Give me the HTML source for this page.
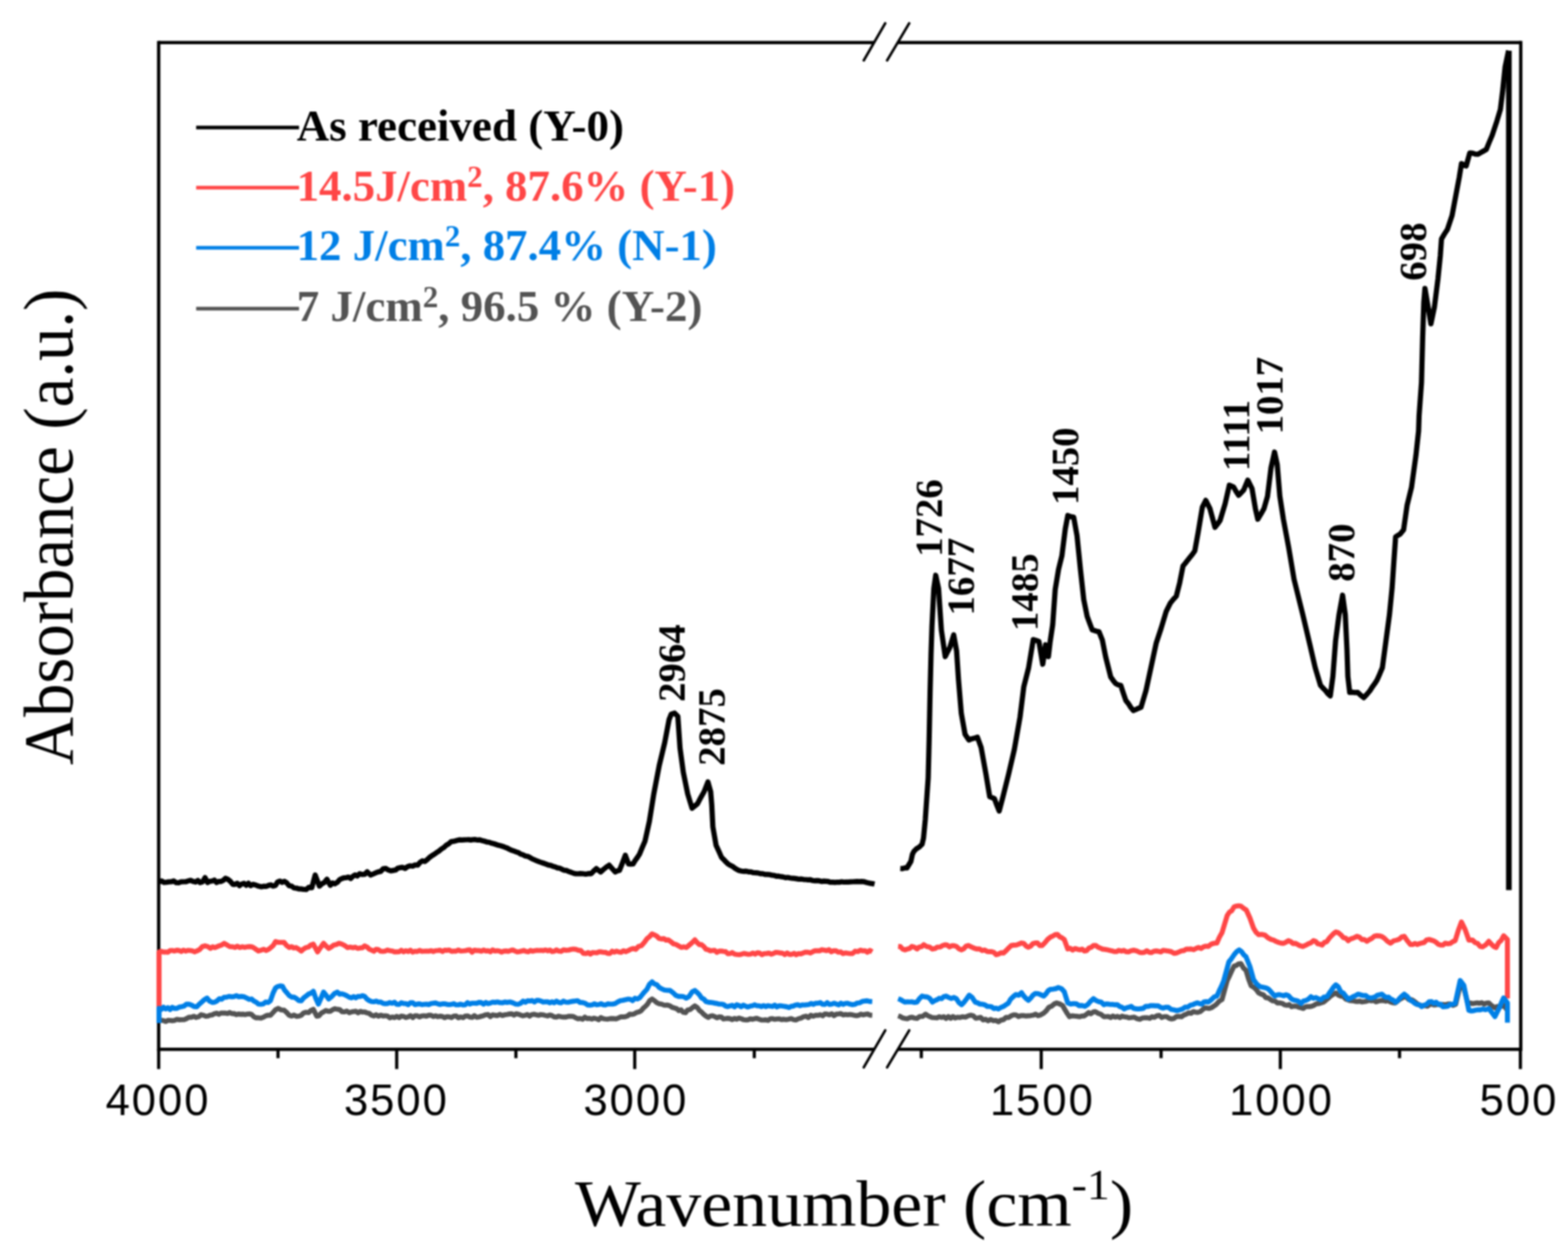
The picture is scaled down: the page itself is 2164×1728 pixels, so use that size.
<!DOCTYPE html>
<html><head><meta charset="utf-8"><title>FTIR absorbance spectra</title>
<style>html,body{margin:0;padding:0;background:#fff;width:2164px;height:1728px;overflow:hidden;}svg{display:block;}</style>
</head><body>
<svg width="2164" height="1728" viewBox="0 0 2164 1728" style="filter:blur(0.8px)"><g stroke="#000" stroke-width="4.6" fill="none" stroke-linecap="square">
<line x1="219" y1="58.8" x2="219" y2="1448.2"/>
<line x1="2098.8" y1="58.8" x2="2098.8" y2="1448.2"/>
</g><g stroke="#000" stroke-width="4.6" fill="none" stroke-linecap="butt">
<line x1="219" y1="58.8" x2="1206" y2="58.8"/>
<line x1="1239" y1="58.8" x2="2098.8" y2="58.8"/>
<line x1="219" y1="1448.2" x2="1206" y2="1448.2"/>
<line x1="1239" y1="1448.2" x2="2098.8" y2="1448.2"/>
</g>
<g stroke="#000" stroke-width="4.4" fill="none">
<line x1="219" y1="1448.2" x2="219" y2="1475.5"/>
<line x1="547.5" y1="1448.2" x2="547.5" y2="1475.5"/>
<line x1="876" y1="1448.2" x2="876" y2="1475.5"/>
<line x1="1437" y1="1448.2" x2="1437" y2="1475.5"/>
<line x1="1767" y1="1448.2" x2="1767" y2="1475.5"/>
<line x1="2098.3" y1="1448.2" x2="2098.3" y2="1475.5"/>
<line x1="383.7" y1="1448.2" x2="383.7" y2="1460.5"/>
<line x1="712" y1="1448.2" x2="712" y2="1460.5"/>
<line x1="1041" y1="1448.2" x2="1041" y2="1460.5"/>
<line x1="1271.5" y1="1448.2" x2="1271.5" y2="1460.5"/>
<line x1="1602.4" y1="1448.2" x2="1602.4" y2="1460.5"/>
<line x1="1931.5" y1="1448.2" x2="1931.5" y2="1460.5"/>
</g>
<g stroke="#000" stroke-width="3.6" fill="none" stroke-linecap="round">
<line x1="1192.1" y1="83.3" x2="1221.7" y2="32.2"/>
<line x1="1224.3" y1="83.3" x2="1254.8" y2="32.2"/>
<line x1="1192.1" y1="1473.2" x2="1221.7" y2="1422.1"/>
<line x1="1224.3" y1="1473.2" x2="1254.8" y2="1422.1"/>
</g>
<polyline points="219.5,1408.4 222.5,1408.2 225.6,1408.6 228.6,1409.8 231.7,1408.3 234.7,1408.4 237.8,1408.7 240.8,1408.4 244.1,1406.9 247.4,1407.5 250.7,1407.4 254,1407.4 257.3,1406 260.7,1404 264.1,1404 267.5,1402.7 270.8,1404.3 274.2,1403.3 277.6,1400.5 281,1401.3 284,1402.6 287,1402.4 290,1401.1 293,1400.8 296,1399.1 299.1,1398.4 302.1,1399.9 305.1,1398.1 308.1,1398.3 311.1,1398.3 314.1,1398.9 317.1,1397.5 320.1,1399 323.1,1399 326.1,1400.4 329.1,1399.5 332.2,1400 335.2,1399.7 338.2,1400.3 341.2,1399.7 344.2,1399.3 347.2,1400.1 350.4,1403.3 353.5,1404.8 356.7,1404.8 360,1405.2 363.3,1404.1 366.6,1402.1 369.9,1401.1 373.2,1401.3 376.8,1397.5 380.3,1393.6 383.9,1391.8 388,1393.9 392.1,1394.2 395.6,1397.4 399.2,1401.3 402.5,1402.4 405.8,1400.9 409.2,1402.8 412.5,1402.4 415.8,1401.3 419.1,1398 422.4,1397.1 425.8,1397.6 429.1,1394.6 432.4,1393 437.1,1402.5 440.2,1402.1 443.4,1398.2 446.5,1396.6 449.7,1394.6 452.8,1395.8 456,1395.7 459.2,1393.5 462.3,1392.3 465.5,1393 468.8,1393.4 472.1,1396.4 475.4,1396.6 478.7,1395.5 482,1397.7 485,1396.7 488.1,1396.1 491.1,1395.8 494.2,1398 497.2,1395.9 500.3,1396.9 503.3,1396.6 506.5,1398 509.6,1398.7 512.8,1401.3 516,1402.3 519.1,1400.6 522.3,1402.5 525.4,1401.1 528.6,1402.3 531.7,1401.9 534.9,1402.4 538,1404.9 541.2,1403.6 544.4,1404.5 547.5,1402.8 550.7,1404.6 553.8,1402.4 557,1402.9 560.1,1404.3 563.3,1403.5 566.4,1401.7 569.6,1404.5 572.7,1401.9 575.9,1402 579,1403.6 582.2,1402.1 585.3,1401.9 588.5,1402.5 591.7,1401.2 594.8,1401.3 598,1403 601.1,1402 604.3,1403.2 607.4,1402.5 610.6,1402.9 613.7,1404.6 616.9,1403.1 620,1403.5 623.2,1404.5 626.3,1402.4 629.5,1402.3 632.6,1404.8 635.8,1403.6 639,1404.5 642.1,1402.5 645.3,1402.1 648.4,1403.8 651.6,1404.2 654.7,1401.7 657.9,1404 661,1403.6 664.2,1402.6 667.3,1401.8 670.5,1400.6 673.6,1400.3 676.8,1403.1 679.9,1400.6 683.1,1401.3 686.5,1401.7 689.9,1400 693.2,1401.6 696.6,1400.6 700,1400.1 703.1,1399.5 706.2,1399.3 709.3,1401.1 712.3,1399.1 715.4,1399.8 718.5,1400.9 721.6,1402 724.7,1401.3 727.8,1400.3 730.9,1402.5 734,1400.3 737,1399.8 740.1,1400.7 743.2,1401.4 746.3,1400.3 749.4,1400.7 752.5,1401.5 755.6,1402.2 758.7,1400.9 761.7,1401.7 764.8,1403.5 767.9,1403.9 771,1402.5 774.4,1403.3 777.7,1403.8 781.1,1403.8 784.5,1402.7 787.9,1402.7 791.2,1402.9 794.6,1404.8 797.8,1406.2 800.9,1405.7 804.1,1406.7 807.2,1403.8 810.4,1405.9 813.5,1405.5 816.7,1406.5 819.8,1405.3 823,1406 826.1,1407.5 829.2,1404.4 832.2,1405.8 835.3,1406.3 838.4,1406.7 841.5,1406 844.6,1405.8 847.6,1406 850.7,1406.2 853.8,1404.8 856.9,1403.4 859.9,1403.5 863,1403.3 866.1,1402.2 869.1,1399.8 872.2,1400.1 875.3,1399.4 878.4,1397.5 881.4,1396.7 884.5,1395.4 887.6,1391.7 890.7,1389 893.7,1385.8 896.8,1380.8 899.9,1378.8 903.1,1381 906.4,1383.9 909.6,1385.3 912.9,1385.9 916.8,1387.4 920.8,1387.1 924.7,1388.3 927.7,1390.4 930.8,1391.2 933.8,1392.1 936.9,1394.8 939.9,1393.7 943,1397.2 946,1397.7 949.2,1393.8 952.5,1393.3 955.8,1390.6 959,1388.3 962.1,1390.3 965.2,1394.6 968.2,1396.8 971.3,1400 974.4,1402.5 977.4,1404.2 980.4,1402.4 983.4,1401.9 986.4,1403.1 989.4,1404.7 992.5,1403.5 995.5,1403.7 998.5,1406.3 1001.5,1405.9 1004.5,1405.5 1007.5,1406 1010.6,1407.3 1013.7,1405.6 1016.8,1406.7 1019.8,1405.2 1022.9,1406 1026,1407.3 1029.1,1407.7 1032.2,1407.6 1035.3,1406.1 1038.4,1406.8 1041.5,1406 1044.5,1405.5 1047.6,1406.7 1050.7,1407.8 1053.8,1407.9 1056.9,1407.5 1060,1408.3 1063.1,1406.2 1066.2,1405.9 1069.2,1406.9 1072.3,1406.4 1075.4,1406.2 1078.5,1407.2 1081.9,1406.8 1085.2,1407.3 1088.6,1406.7 1092,1405.9 1095.4,1407.4 1098.7,1407.7 1102.1,1406 1105.5,1405.2 1108.9,1403.3 1112.3,1402.5 1115.6,1404.5 1119,1401.2 1122.4,1402.6 1125.8,1401.3 1129,1401.4 1132.1,1400.5 1135.3,1402 1138.4,1399.4 1141.6,1399.7 1144.7,1400.7 1147.9,1399.2 1151,1401.7 1154.2,1399.7 1157.3,1399.4 1160.5,1399 1163.6,1400.8 1166.8,1400.1 1169.9,1400.6 1173.1,1400.1 1176.2,1400.7 1179.2,1401.3 1182.3,1401.9 1185.4,1401.2 1188.4,1399.7 1191.5,1400.7 1194.6,1399.9 1197.7,1399.5 1200.7,1401.1 1203.8,1401.3" fill="none" stroke="#535353" stroke-width="6.9" stroke-linejoin="round" stroke-linecap="butt"/>
<polyline points="1239.5,1402 1242.6,1403.1 1245.8,1404.9 1248.9,1405.6 1252.2,1406.1 1255.5,1404.5 1258.9,1404 1262.2,1405.2 1265.5,1405.6 1269.4,1402.9 1273.4,1402.7 1277.3,1399.7 1280.5,1401.9 1283.6,1403.2 1286.8,1404.4 1290,1404.6 1293.1,1404.9 1296.2,1403.3 1299.4,1404.2 1302.5,1403.3 1305.7,1405.7 1308.8,1403 1312,1405.4 1315.1,1403 1318.3,1405 1321.4,1403.9 1324.6,1404.4 1328.5,1403.3 1332.5,1403.9 1336.4,1402 1339.8,1401.1 1343.2,1402 1346.6,1405.4 1349.9,1404.8 1353.3,1404.1 1356.7,1407.7 1360.1,1406.8 1363.6,1408.9 1367.2,1407 1370.7,1408.7 1374.3,1408.4 1377.8,1410.3 1381.4,1408 1384.9,1407.4 1388.5,1404.2 1392,1404.3 1395.6,1402 1399,1400.6 1402.3,1400.9 1405.7,1403 1409.1,1401.7 1412.5,1401.7 1415.8,1402.3 1419.2,1402 1422.5,1401.7 1425.8,1401.2 1429.2,1399.8 1432.5,1401.8 1435.8,1400.9 1439.7,1398.8 1443.7,1395.3 1447.6,1390.2 1451.2,1388.8 1454.7,1385.8 1458.3,1384.3 1462.4,1385.6 1466.5,1387.8 1469.7,1393.5 1472.8,1398.6 1476,1403.2 1479.5,1402 1483.1,1402.4 1486.7,1402.8 1490.2,1403.2 1493.2,1402.2 1496.3,1402.2 1499.3,1400.2 1502.4,1397.6 1505.4,1399.2 1508.5,1396.9 1511.5,1396.1 1515.4,1398.5 1519.4,1399.9 1523.3,1403.2 1526.5,1403.1 1529.6,1403 1532.8,1404.4 1535.9,1402.3 1539.1,1403.9 1542.2,1402.8 1545.4,1404.5 1548.6,1402.5 1551.7,1403.4 1554.9,1403.7 1558,1404.7 1561.2,1404.4 1565.1,1403.8 1569.1,1405.9 1573,1406.8 1576.4,1405.2 1579.7,1404.7 1583.1,1404.7 1586.5,1405.5 1589.9,1403.3 1593.2,1404.1 1596.6,1402 1600,1401.5 1603.4,1404.4 1606.8,1403.1 1610.1,1403.1 1613.5,1405.4 1616.9,1406.4 1620.3,1405.6 1623.7,1403 1627.1,1402.8 1630.5,1403.4 1633.8,1401 1637.2,1399.7 1640.6,1397.9 1644,1398.5 1647.1,1396.1 1650.1,1397 1653.2,1397.2 1656.3,1396.3 1659.3,1393.8 1662.4,1391.3 1665.5,1391.3 1668.6,1391.8 1671.6,1391 1674.7,1389 1678.6,1386.3 1682.6,1381.9 1686.5,1379.6 1693.6,1353.5 1696.8,1346.9 1699.9,1340 1703.1,1333.4 1706.3,1332.6 1709.4,1330.3 1712.6,1329.9 1716.1,1336 1719.6,1339.3 1723.2,1351.2 1726.7,1360.6 1730.2,1362.4 1733.7,1365.7 1737.1,1370.4 1740.6,1372.1 1743.8,1373.1 1747,1377 1750.2,1377.3 1753.3,1379.6 1756.5,1381.4 1759.7,1381.6 1762.9,1384.2 1766.2,1384.2 1769.4,1384.8 1772.7,1386.8 1775.9,1387.5 1779.2,1386.4 1782.5,1389.5 1785.7,1388.7 1789,1388.8 1792.2,1390.1 1795.5,1391 1798.6,1391.8 1801.6,1389.7 1804.7,1389.1 1807.7,1389.3 1810.8,1388.7 1813.8,1387.3 1816.9,1385.4 1819.9,1385.2 1823,1384.2 1826.4,1383.2 1829.9,1380.5 1833.3,1377.6 1836.7,1374.5 1840.2,1372.3 1843.6,1370.4 1847,1373.3 1850.4,1374.9 1853.9,1375.3 1857.3,1379 1860.5,1380.1 1863.7,1381.1 1866.9,1381.2 1870.2,1382 1873.4,1382.4 1876.6,1381.7 1879.8,1382.9 1883,1382.4 1886.2,1381.8 1889.5,1380.7 1892.7,1381.3 1895.9,1380.9 1899.1,1382.7 1902.3,1381.7 1905.6,1381 1908.8,1380.7 1912.2,1381.8 1915.6,1380.9 1919.1,1382.9 1922.5,1384.1 1925.9,1384.2 1928.9,1381.7 1932,1379.1 1935,1377.5 1938,1375.6 1941.2,1376.7 1944.4,1379.6 1947.6,1379.6 1950.7,1381.1 1953.9,1383.6 1957.1,1386.5 1960.3,1387.6 1963.4,1388.3 1966.5,1387.9 1969.7,1388.7 1972.8,1386.8 1975.9,1385.7 1979,1387.1 1982.1,1386.8 1985.2,1385.9 1988.4,1387.4 1991.5,1386.3 1994.6,1386.7 1998.2,1385.7 2001.8,1385.8 2005.4,1387.6 2009,1386 2015.2,1360 2020.3,1364 2026,1386 2029.2,1384.2 2032.4,1385.2 2035.6,1384.7 2038.8,1384.2 2041.9,1384.8 2045.1,1383.9 2048.3,1385.9 2051.5,1384.4 2054.7,1384.2 2058.9,1388.2 2063.2,1391 2066.2,1389.1 2069.2,1389.2 2072.2,1388.8 2075.2,1387.6 2080.4,1394.5" fill="none" stroke="#535353" stroke-width="6.9" stroke-linejoin="round" stroke-linecap="butt"/>
<polyline points="219.5,1390 219.5,1313.8 222.5,1312.9 225.6,1314 228.6,1313.9 231.7,1314.2 234.7,1311.9 237.8,1311.9 240.8,1312.6 243.9,1311.5 246.9,1311.7 250,1313.3 253.1,1311.4 256.1,1312.7 259.2,1311.7 262.3,1311.9 265.4,1312.4 268.4,1313.7 271.5,1312.6 275.4,1310.6 279.4,1306.3 283.3,1305.5 286.9,1306.5 290.4,1309 293.5,1306.7 296.7,1307.9 299.9,1306.5 303,1305.3 306.1,1304.2 309.3,1302 313.3,1304.3 317.2,1306.6 321.2,1306.7 324.4,1307.6 327.7,1305.9 330.9,1307.8 334.2,1306.7 337.4,1307.5 340.7,1306.9 343.9,1306.5 347.2,1306.7 350.4,1308.2 353.5,1310.4 356.7,1312.6 360.2,1311.4 363.8,1310.2 367.3,1311.8 370.9,1310.2 374,1307.6 377.2,1304.7 380.3,1299.6 384.2,1300.6 388.2,1300.6 392.1,1300.8 395.6,1305.1 399.2,1307.8 402.4,1306.6 405.5,1308.4 408.7,1307.8 412.2,1310 415.8,1312.6 419.1,1309.7 422.4,1307.8 425.8,1307 429.1,1304.2 432.4,1303.1 438.3,1313.8 442.4,1307.7 446.5,1301.9 450.1,1305.8 453.6,1309 457.2,1306.9 460.7,1304.3 464.2,1303.6 467.8,1301.9 471.8,1303 475.7,1305 479.7,1307.8 483.2,1307.1 486.8,1308 490.3,1307.3 493.9,1309 497,1308.3 500.2,1308.1 503.3,1305.5 506.5,1307.1 509.6,1310.1 512.8,1311.4 516,1312.9 519.1,1310.2 522.3,1310.7 525.4,1312.9 528.6,1313.1 531.7,1312.6 534.9,1311.2 538,1312.2 541.2,1312.6 544.4,1313.8 547.5,1313.8 550.7,1313.6 553.8,1311.6 557,1313.7 560.1,1312.2 563.3,1313.3 566.4,1311.4 569.6,1314.1 572.7,1312.9 575.9,1313.3 579,1311.7 582.2,1313 585.3,1312.9 588.5,1312.6 591.7,1312.9 594.8,1312.1 598,1313.3 601.1,1312.1 604.3,1311.9 607.4,1311.5 610.6,1313.2 613.7,1311.4 616.9,1311.7 620,1311.2 623.2,1313.1 626.3,1312.8 629.5,1312.7 632.6,1311.1 635.8,1312.6 639,1312.4 642.1,1312.1 645.3,1311.3 648.4,1311 651.6,1314.2 654.7,1311.4 657.9,1312 661,1311.9 664.2,1312.9 667.3,1311.2 670.5,1312.5 673.6,1312.2 676.8,1313.7 679.9,1311 683.1,1312.6 686.2,1312.1 689.2,1312.6 692.3,1314.1 695.4,1312.7 698.5,1312.5 701.5,1313.1 704.6,1311.9 707.7,1311.1 710.8,1312.6 713.9,1313.9 716.9,1313.4 720,1312.6 723,1311.8 726,1313.2 729,1313.7 732,1311.8 735,1312.9 738,1312.1 741,1311.8 744,1311.9 747,1311.7 750,1312.1 753,1311.1 756,1312.3 759,1311.3 762,1313.4 765,1312.9 768,1311 771,1312.6 774.4,1313.1 777.7,1310.9 781.1,1311.5 784.5,1311.4 787.9,1310.4 791.2,1309.9 794.6,1310.2 798.1,1311.5 801.7,1312 805.2,1315.8 808.8,1316.1 811.8,1314.7 814.8,1316.8 817.8,1314.7 820.8,1314.9 823.8,1315 826.8,1313.7 829.8,1313.8 832.8,1314.4 835.8,1314.5 838.8,1315.8 841.8,1316 844.8,1312.8 847.8,1314.2 850.8,1312.8 853.8,1313.8 857.2,1314.3 860.5,1312.2 863.9,1313.5 867.3,1311.9 870.7,1310 874,1309.1 877.4,1310.2 881.3,1306.3 885.3,1305.1 889.2,1300.8 892.8,1295.7 896.3,1292.8 899.9,1288.9 903.1,1290.3 906.4,1292 909.6,1295.2 912.9,1296 916.1,1295.5 919.2,1297.5 922.4,1297.2 925.9,1299.8 929.5,1302.7 933,1303.5 936.5,1305.5 940.1,1307.6 943.6,1306.8 947.2,1307.8 951.1,1304.5 955.1,1301.1 959,1297.2 962.1,1300.9 965.2,1303.7 968.2,1303.8 971.3,1306.4 974.4,1310.2 977.4,1310.8 980.4,1312.3 983.4,1311.9 986.4,1311.7 989.4,1314.4 992.5,1312.8 995.5,1312.6 998.5,1313.1 1001.5,1313.5 1004.5,1316.3 1007.5,1316.1 1010.7,1314.8 1013.8,1316.8 1017,1317.3 1020.1,1317.7 1023.3,1317.1 1026.4,1315.9 1029.6,1316.5 1032.7,1317.2 1035.9,1316.8 1039,1315.4 1042.2,1316.9 1045.3,1314.9 1048.5,1315.5 1051.6,1317.7 1054.8,1316.1 1058,1316 1061.1,1315.4 1064.3,1317 1067.4,1315.9 1070.6,1314.5 1073.7,1314.6 1076.9,1315.3 1080,1315.6 1083.2,1317.5 1086.3,1315.3 1089.5,1317.2 1092.6,1317.2 1095.8,1315.8 1098.9,1317.7 1102.1,1316.1 1105.3,1316.5 1108.6,1315.2 1111.8,1314.1 1115,1314.3 1118.2,1315.3 1121.5,1313.7 1124.7,1312.1 1127.9,1312.3 1131.1,1312.2 1134.4,1310.8 1137.6,1311.4 1140.8,1312.1 1144.1,1310.8 1147.3,1313.7 1150.5,1312.1 1153.7,1312.3 1157,1314.2 1160.2,1313.8 1163.4,1316.1 1166.6,1315.2 1169.9,1315.7 1173.1,1316.1 1176.6,1316 1180.2,1312.8 1183.8,1313.4 1187.3,1311.4 1190.6,1312.4 1193.9,1312.1 1197.2,1314.3 1200.5,1311.8 1203.8,1313.8" fill="none" stroke="#ff4646" stroke-width="6.9" stroke-linejoin="round" stroke-linecap="butt"/>
<polyline points="1239.5,1306.2 1242.6,1306.5 1245.8,1310 1248.9,1311 1252.1,1309.9 1255.2,1309.2 1258.4,1306.2 1262,1307.3 1265.5,1309.8 1268.6,1307.1 1271.8,1306.6 1274.9,1303.9 1278.9,1306.4 1282.8,1307.2 1286.8,1309.8 1290.3,1309.2 1293.9,1307.1 1297.5,1307.1 1301,1305 1304.2,1304 1307.3,1304.5 1310.5,1306.9 1313.6,1305.3 1316.8,1305.2 1319.9,1306.2 1323.5,1309.6 1327,1311 1330.1,1309.4 1333.3,1305.9 1336.4,1305 1340.4,1306.8 1344.3,1308.7 1348.3,1309.8 1351.8,1309.6 1355.4,1312 1359,1311.2 1362.5,1313.3 1365.6,1313.5 1368.6,1313.4 1371.7,1314.5 1374.7,1317.7 1377.8,1316.9 1381.4,1315 1384.9,1315.3 1388.5,1312.1 1392,1308.4 1395.6,1305 1399.1,1304.5 1402.7,1304.4 1406.2,1303 1409.8,1301.5 1412.9,1302.2 1416.1,1305.7 1419.2,1307.4 1422.4,1305.9 1425.5,1302.4 1428.7,1301.5 1431.9,1301.4 1435,1305 1438.2,1305 1442.1,1301.1 1446.1,1296.2 1450,1293.2 1453.1,1291.9 1456.3,1290 1459.4,1289.7 1462.6,1293 1465.7,1294.4 1468.9,1296.8 1473.6,1309.8 1476.9,1308.8 1480.2,1311.3 1483.6,1309.2 1486.9,1310.1 1490.2,1311 1493.4,1309.9 1496.5,1312.5 1499.7,1312.1 1502.8,1308.5 1506,1307.4 1509.1,1305 1512.3,1304.9 1515.4,1307.3 1518.6,1308.6 1521.8,1310 1524.9,1310.3 1528,1310.8 1531.2,1311.7 1534.3,1312.3 1537.5,1313.3 1540.9,1313.4 1544.3,1311.7 1547.7,1312.7 1551,1311.8 1554.4,1313.6 1557.8,1313.7 1561.2,1312.1 1565.1,1311.5 1569.1,1312.6 1573,1314.5 1576.2,1314.9 1579.5,1314.3 1582.7,1312.3 1585.9,1314.3 1589.1,1314.8 1592.4,1312.9 1595.6,1312.5 1598.8,1313 1602,1313.9 1605.3,1311.6 1608.5,1312.1 1612.4,1312.7 1616.4,1313.5 1620.3,1315.7 1623.7,1315.3 1627.1,1313.9 1630.5,1312.4 1633.8,1312 1637.2,1310 1640.6,1310 1644,1309.8 1647.4,1310.8 1650.7,1309 1654.1,1307.6 1657.5,1309.1 1660.9,1306.8 1664.2,1305.9 1667.6,1306.2 1671.5,1303.1 1675.5,1301.9 1679.4,1301.5 1683,1293.4 1686.5,1287.3 1693.6,1263.7 1696.8,1258.9 1699.9,1257 1703.1,1251.8 1706.3,1250.6 1709.4,1250.2 1712.6,1250.6 1716.3,1253.6 1720,1256 1725,1267 1730,1281 1733.5,1286.8 1737,1290 1741.3,1289.6 1745.7,1290.6 1750,1294.4 1754.3,1296.6 1757.8,1297.5 1761.2,1299.4 1764.6,1300.8 1768.1,1301.8 1771.5,1302 1774.9,1300.3 1778.3,1298.3 1781.4,1299.7 1784.5,1302.2 1787.6,1302 1790.7,1303.4 1793.8,1305.2 1798.1,1306.3 1802.4,1304.4 1805.8,1302.5 1809.3,1301.2 1812.7,1298.3 1815.7,1299.2 1818.7,1302.7 1821.7,1303.2 1824.7,1304.4 1827.8,1300.6 1831,1299.8 1834.2,1295.3 1837.3,1291.8 1840.4,1288.6 1843.6,1286.3 1847,1287.4 1850.4,1290.1 1853.9,1294.1 1857.3,1294.8 1860.7,1298.3 1863.7,1296 1866.7,1295.1 1869.7,1293.9 1872.7,1292.3 1876.2,1293.6 1879.6,1296.7 1883,1296.7 1886.5,1299.2 1889.9,1296.9 1893.3,1295.1 1896.8,1292.2 1900.2,1291.5 1903.6,1291.7 1907.1,1292.6 1910.5,1294.9 1914.8,1299.1 1919.1,1301.8 1923.4,1298.5 1927.7,1297.5 1931.1,1296.3 1934.6,1293.1 1938,1292.3 1942.2,1298.4 1946.5,1303.5 1949.7,1303.6 1952.8,1302.2 1956,1303.6 1959.1,1302.3 1962.2,1301.5 1965.4,1300.9 1968.8,1297.3 1972.3,1296.6 1975.5,1297.6 1978.6,1298.5 1981.8,1300.4 1984.9,1303.2 1988,1304.3 1991.2,1304.4 1994.6,1301.8 1998,1302.5 2001.5,1302.1 2004.9,1299.7 2008.3,1298.3 2012.6,1284.2 2016.9,1272.6 2022,1282.9 2027.2,1297.5 2032.3,1297.5 2035.8,1301 2039.2,1302 2042.6,1306.1 2046.1,1306.9 2050.4,1304.2 2054.7,1299.2 2058.1,1303.1 2061.5,1306.3 2064.9,1307.8 2068.3,1301 2071.8,1297.9 2075.2,1291.5 2080.4,1296.6 2080.4,1378" fill="none" stroke="#ff4646" stroke-width="6.9" stroke-linejoin="round" stroke-linecap="butt"/>
<polyline points="219.5,1412 219.5,1391.8 222.5,1393.3 225.6,1390.2 228.6,1392.6 231.7,1390.7 234.7,1393.4 237.8,1390.3 240.8,1391.8 244.1,1391.8 247.4,1390 250.7,1389.4 254,1388.7 257.3,1385.9 260.9,1386 264.4,1387.2 267.9,1389.3 271.5,1389.5 275.1,1385.8 278.6,1382.8 282.1,1379.7 285.7,1377.6 289.2,1381.7 292.8,1383.5 296.1,1383.3 299.4,1381.6 302.7,1378.4 306,1379.2 309.3,1376.4 312.7,1376.3 316.1,1375.2 319.5,1375.8 322.8,1375.5 326.2,1374.3 329.6,1375.7 333,1375.3 336.6,1375.7 340.1,1377.3 343.6,1379.3 347.2,1378.8 350.4,1381.6 353.5,1383.2 356.7,1385.9 360,1386.1 363.3,1385.6 366.6,1383 369.9,1383.6 373.2,1381.2 376.8,1370.8 380.3,1363.4 383.5,1361.5 386.6,1360.8 389.8,1361.1 392.9,1366.8 396.1,1370.4 399.2,1374.1 402.5,1376.2 405.8,1376.3 409.2,1378.3 412.5,1381 415.8,1381.2 419.1,1377.3 422.4,1374.8 425.8,1372 429.1,1370.7 432.4,1368.2 435.9,1378.1 439.4,1385.9 442.9,1377.8 446.5,1369.3 450.1,1373.7 453.6,1378.8 457.6,1375.6 461.5,1371.4 465.5,1369.3 468.8,1372.2 472.1,1371.7 475.4,1372.7 478.7,1374.4 482,1376.4 485,1377.3 488.1,1375.5 491.1,1377.2 494.2,1375.2 497.2,1375.4 500.3,1374.1 503.3,1375.3 506.5,1379 509.6,1381 512.8,1382.4 516,1382.6 519.1,1381.7 522.3,1383.1 525.4,1383 528.6,1384.8 531.7,1385.3 534.9,1385 538,1383.8 541.2,1384.7 544.4,1383.3 547.5,1386.1 550.7,1386.4 553.8,1383.9 557,1385.1 560.1,1385.1 563.3,1386.8 566.4,1383.9 569.6,1384 572.7,1386.6 575.9,1385.8 579,1385.5 582.2,1386.6 585.3,1386.1 588.5,1385.9 591.7,1386.5 594.8,1385.1 598,1384.6 601.1,1384.3 604.3,1385.4 607.4,1386.4 610.6,1385.5 613.7,1385.4 616.9,1386.3 620,1386.6 623.2,1386.2 626.3,1385.3 629.5,1386.9 632.6,1386.9 635.8,1385.9 639,1387 642.1,1386.8 645.3,1383.9 648.4,1385.8 651.6,1384.6 654.7,1384.6 657.9,1384.8 661,1383.5 664.2,1383.7 667.3,1385.9 670.5,1383.6 673.6,1385.3 676.8,1384.4 679.9,1383.1 683.1,1383.5 686.5,1382.9 689.9,1383.8 693.2,1384.1 696.6,1383 700,1383.5 703.9,1382.9 707.9,1384.1 711.8,1385.9 715.1,1386.1 718.4,1384.8 721.8,1381.8 725.1,1383.2 728.4,1381.2 731.4,1381.6 734.5,1381 737.5,1383 740.6,1380.7 743.6,1380.7 746.7,1381.7 749.7,1383.1 752.7,1382.7 755.8,1382.6 758.8,1384.1 761.9,1382.7 764.9,1384.1 768,1381.8 771,1383.5 774.2,1384.1 777.5,1381.8 780.8,1383.1 784,1383.4 787.2,1382.6 790.5,1382 793.8,1381.6 797,1381.2 800.5,1383.5 804.1,1383.7 807.7,1384.8 811.2,1387.1 814.3,1387.2 817.3,1386.9 820.4,1385.5 823.5,1386.7 826.5,1386.4 829.6,1385.3 832.7,1386.9 835.8,1387 838.8,1385.5 841.9,1385.9 845.5,1385.9 849,1385.1 852.5,1382.9 856.1,1381.2 859.5,1380.6 862.9,1379.8 866.3,1379 869.6,1379.1 873,1381.1 876.4,1377.7 879.8,1378.8 882.9,1377 886.1,1373.1 889.2,1369.3 892.8,1365.5 896.3,1358.6 899.9,1355.2 903.1,1358 906.4,1359 909.6,1362.8 912.9,1364.6 916.8,1366.3 920.8,1366.9 924.7,1367 928.6,1369.9 932.6,1373.8 936.5,1375.3 940.1,1375.2 943.6,1375.7 947.2,1377.6 951.1,1375.2 955.1,1369.1 959,1367 962.1,1369.8 965.2,1372.9 968.2,1377.4 971.3,1378.9 974.4,1382.4 977.4,1383.2 980.4,1383.5 983.4,1383.9 986.4,1384.5 989.4,1385 992.5,1385.9 995.5,1385.9 998.5,1386.4 1001.5,1388.6 1004.5,1389.3 1007.5,1388.3 1010.6,1387.5 1013.7,1389.7 1016.8,1386.8 1019.8,1387.8 1022.9,1389.6 1026,1387.2 1029.1,1388.8 1032.2,1389.9 1035.3,1388.7 1038.4,1388.2 1041.5,1386.8 1044.5,1388.1 1047.6,1388.2 1050.7,1389.2 1053.8,1387.9 1056.9,1389.3 1060,1388 1063.1,1388.7 1066.2,1389.1 1069.2,1387.2 1072.3,1389.8 1075.4,1388.1 1078.5,1388.3 1082,1388.8 1085.6,1389.5 1088.7,1390.6 1091.8,1389 1094.9,1388.5 1098,1387.1 1101.1,1386.8 1104.2,1388.1 1107.2,1386.9 1110.3,1387.1 1113.4,1386.8 1116.5,1386.4 1119.6,1384.9 1122.7,1386.2 1125.8,1384.7 1129,1384.6 1132.1,1383.8 1135.3,1386.1 1138.4,1386.3 1141.6,1383.9 1144.7,1386.4 1147.9,1385.9 1151,1384.6 1154.2,1385.7 1157.3,1386.9 1160.5,1384.5 1163.6,1386.2 1166.8,1384.9 1169.9,1384.7 1173.1,1385.9 1176.5,1386.7 1179.8,1386.1 1183.2,1384.4 1186.6,1384.1 1190,1382.2 1193.3,1381.6 1196.7,1381.2 1200.2,1382.2 1203.8,1382.4" fill="none" stroke="#007fe6" stroke-width="6.9" stroke-linejoin="round" stroke-linecap="butt"/>
<polyline points="1239.5,1378.4 1242.6,1379.5 1245.8,1381.5 1248.9,1383.1 1252.2,1382.8 1255.5,1382.9 1258.9,1382.8 1262.2,1383.6 1265.5,1383.1 1269,1378.2 1272.6,1374.8 1276.2,1375.8 1279.7,1376 1283.2,1378 1286.8,1383.1 1290,1381.1 1293.1,1379.8 1296.2,1377.8 1299.4,1378.3 1302.5,1375.6 1305.7,1374.8 1309.2,1376.6 1312.8,1378.1 1316.4,1376.7 1319.9,1378.4 1323.5,1383.8 1327,1386.7 1330.5,1383.3 1334.1,1378.5 1337.6,1373.6 1341.8,1376.8 1345.9,1383.1 1349.2,1384.1 1352.5,1385.9 1355.9,1386 1359.2,1386.9 1362.5,1389 1365.6,1389.1 1368.6,1389.7 1371.7,1392.1 1374.7,1391.4 1377.8,1392.6 1381.4,1390.4 1384.9,1389.1 1388.5,1386.7 1391.6,1384.6 1394.8,1378.9 1397.9,1376 1401.9,1372.6 1405.8,1373.6 1409.8,1370.1 1412.9,1374.7 1416.1,1378.1 1419.2,1380.7 1422.4,1377.6 1425.5,1373.6 1428.7,1371.3 1432.6,1371.4 1436.6,1373 1440.5,1374.8 1443.7,1371.5 1446.8,1367.1 1450,1365.4 1453.5,1365.2 1457.1,1364.5 1460.6,1363 1464.8,1364.4 1468.9,1368.9 1473.6,1384.3 1477.6,1385.8 1481.5,1385.1 1485.5,1385.5 1489.4,1388 1493.4,1387.8 1497.3,1389 1501.2,1386.4 1505.2,1381.8 1509.1,1378.4 1512.6,1380.8 1516.2,1382.5 1519.8,1383.1 1523.3,1386.7 1526.5,1385.6 1529.6,1385.8 1532.8,1386.4 1535.9,1386.3 1539,1386.8 1542.2,1386.7 1545.4,1389.2 1548.5,1390.3 1551.7,1392.6 1554.9,1390.8 1558,1390.2 1561.2,1389 1564.3,1391.6 1567.5,1392.3 1570.6,1392.6 1574.1,1392.2 1577.7,1391.8 1581.2,1389 1584.8,1389 1588.2,1387.9 1591.6,1388 1595,1388.3 1598.3,1388.1 1601.7,1390.3 1605.1,1391.4 1608.5,1390.2 1612.4,1390.2 1616.4,1393.2 1620.3,1393.8 1624.2,1394.8 1628.2,1393.8 1632.1,1392.6 1635.6,1390 1639.2,1390.1 1642.8,1387.4 1646.3,1386.7 1649.3,1385.2 1652.4,1384.1 1655.4,1385.2 1658.5,1386 1661.5,1382.9 1664.6,1382.5 1667.6,1383.1 1671.5,1380 1675.5,1376.1 1679.4,1374.8 1682.6,1367.6 1685.7,1361.3 1688.9,1353.5 1696,1327.5 1699.5,1323.2 1703.1,1317.8 1706.7,1313.6 1710.2,1311 1713.3,1313.2 1716.5,1317.8 1719.6,1320.4 1725,1334 1730,1352 1734.5,1358.3 1738.9,1361.8 1743.2,1362.7 1747.5,1363.6 1750.5,1365.1 1753.5,1368.2 1756.5,1371.7 1759.5,1374.7 1762.6,1373.1 1765.7,1372.8 1768.7,1373.5 1771.8,1374.4 1774.9,1373 1778.3,1374.2 1781.8,1378.2 1785.2,1380.2 1788.6,1380.8 1792.1,1382.1 1795.5,1385 1798.9,1381.6 1802.3,1380.8 1805.8,1379 1809.2,1375.6 1812.7,1377.8 1816.1,1376.8 1819.5,1378.6 1823,1379.9 1827.2,1376.2 1831.5,1375.6 1834.5,1370.9 1837.5,1366.8 1840.6,1362.2 1843.6,1359.3 1847,1361.9 1850.4,1368.8 1853.9,1370.5 1857.3,1375.1 1860.7,1379 1864.2,1377.4 1867.6,1375.5 1871,1374.1 1874.5,1372.1 1877.9,1373.1 1881.3,1374.1 1884.8,1373.9 1888.2,1376.7 1891.6,1377.3 1894.7,1376.8 1897.8,1375.9 1900.9,1373.6 1904,1373 1907.1,1372.1 1910.2,1374.9 1913.4,1376.6 1916.5,1376.3 1919.6,1379 1922.8,1380.4 1925.9,1383.3 1928.9,1381.2 1932,1377.4 1935,1374.6 1938,1372.1 1942.2,1375.5 1946.5,1380.7 1949.6,1382.3 1952.7,1384.8 1955.8,1386.3 1958.9,1386.7 1962,1389.3 1965.4,1387.2 1968.8,1386.2 1972.3,1382.7 1975.7,1382.4 1978.8,1384.8 1982,1383.2 1985.2,1386.3 1988.3,1385.9 1991.4,1389.6 1994.6,1389.3 1998,1388.8 2001.4,1386.3 2004.9,1386.1 2008.3,1385 2015.2,1353.3 2020.3,1360.1 2027.2,1394.5 2030.3,1395.3 2033.5,1395 2036.7,1394.1 2039.8,1393.7 2042.9,1393.8 2046.1,1392.7 2050.4,1393.6 2054.7,1391.9 2058.9,1397.5 2063.2,1403 2066.2,1396.9 2069.2,1391.1 2072.2,1383.8 2075.2,1377.3 2080.4,1384.2 2080.4,1411.6" fill="none" stroke="#007fe6" stroke-width="6.9" stroke-linejoin="round" stroke-linecap="butt"/>
<polyline points="219.5,1217.1 222.9,1215.8 226.3,1217.9 229.8,1217.6 233.2,1217.1 236.5,1217 239.8,1215.9 243.1,1218.2 246.5,1218.3 249.8,1217.1 253.1,1217 256.4,1217 259.7,1215.9 263,1215 266.3,1216.5 269.7,1217.3 273,1215.3 276.3,1218.2 279.6,1217 283,1211.3 286.5,1218 289.6,1216.4 292.7,1216 295.8,1214.7 298.9,1218 302,1216.5 305.1,1216.6 308.2,1215 311.3,1212.2 314.4,1213.6 317.9,1216.4 321.3,1220.6 324.4,1220.6 327.5,1219.1 330.5,1222.4 333.6,1220.1 336.7,1219.2 339.8,1221.9 342.8,1219.1 345.9,1222.3 349,1220.6 352.9,1221.5 356.8,1223.1 360.7,1224 364,1223.2 367.2,1223.5 370.5,1222.1 373.7,1221.3 377,1223 380.1,1222.1 383.2,1217.3 386.3,1216 389.4,1217.9 392.4,1216.4 395.5,1218.3 399,1222.5 402.5,1223 405.7,1225.5 409,1225.8 412.2,1226.8 415.5,1226.9 418.7,1227.5 422.6,1227.7 426.4,1224.5 430.3,1225.2 435,1207.8 440.8,1223 444.3,1219.8 447.7,1218 451.2,1213.6 455.8,1221.8 459,1218.7 462.3,1219.8 465.5,1217.8 468.8,1214 472,1212.5 475,1211.5 478,1211.3 481,1210.5 484,1212.5 487,1209.5 490,1207.6 493,1209 496.4,1205.9 499.9,1207 503.4,1206.6 506.8,1203.2 511.5,1207.8 515,1206.3 518.5,1204.7 522,1203.4 525.4,1202.7 528.9,1199 532.4,1198.6 535.8,1200.7 539.3,1202 542.6,1201.4 545.9,1200.8 549.2,1198.2 552.6,1197.4 555.9,1197.2 559.2,1198.7 562.5,1196.2 566,1195 569.5,1195.5 572.9,1193.8 576.4,1194 579.7,1190.3 582.9,1188.1 586.2,1189 589.4,1186.7 592.7,1183.5 595.9,1181.1 599.2,1179.1 602.4,1176.8 605.7,1174.7 608.9,1172 612.4,1169.8 615.8,1166.7 619.3,1164.6 622.8,1161.5 626.7,1161.1 630.5,1160 634.4,1159.1 637.5,1159.4 640.6,1159.1 643.7,1159 646.8,1158.9 649.8,1159.4 652.9,1158.8 656,1158.7 659.1,1159.4 662.2,1159.1 665.5,1160.3 668.7,1161 672,1162.2 675.2,1162.5 678.5,1163.8 681.6,1164.5 684.6,1165.5 687.7,1166.6 690.8,1167.3 693.9,1168.2 696.9,1169.4 700,1170.5 703.2,1172.2 706.3,1173.6 709.5,1174.7 712.6,1175.8 715.8,1176.9 718.9,1178.9 722.1,1179.9 725.2,1181.4 728.4,1182.1 731.5,1183.6 734.7,1185.5 737.8,1186.8 741,1188.2 744.1,1189.3 747.3,1190.5 750.5,1191.5 753.6,1192.6 756.8,1193.9 759.9,1194.4 763.1,1195.7 766.2,1196.5 769.4,1197.9 772.5,1198.3 775.7,1199.9 778.8,1201.2 782,1201.4 785.1,1202.9 788.3,1204 791.4,1205.2 794.6,1205.9 797.6,1206 800.7,1205.7 803.7,1205.8 806.8,1206.3 809.8,1206.3 812.9,1205.6 815.9,1205.9 819.5,1202 823,1198.8 828.9,1203.5 832.8,1200 836.8,1196.8 840.7,1194.1 844.9,1198.8 849,1203.5 852,1202 855,1201.2 859,1191.1 863,1180.4 867.5,1192.5 870.5,1192.6 873.6,1192.5 876.6,1187.6 879.6,1183.5 882.6,1178.9 886.4,1169.7 890.2,1160.8 896.2,1133.6 902.3,1095.8 909.8,1056.6 917.4,1024.9 923.4,993.2 926.4,985.7 931,984.2 935.5,988.7 938.5,1032.5 943,1065.7 949.1,1095.8 955.1,1115.5 958.9,1112.4 962.6,1109.4 965.6,1103.6 968.7,1098 971.7,1092.8 977,1079.2 980.8,1092.8 982.3,1111 983.8,1141.1 988.3,1166.8 992,1174.8 995.8,1183.4 998.8,1186.3 1001.9,1189.7 1004.9,1192.5 1007.9,1194.3 1010.9,1195.7 1014,1198.1 1017,1200 1020,1201.5 1023.3,1202.2 1026.6,1202.7 1029.9,1202.4 1033.1,1203.3 1036.4,1203.4 1039.7,1204.5 1043,1204.7 1046.2,1204.9 1049.3,1205.8 1052.5,1205.9 1055.6,1206.8 1058.8,1206.9 1061.9,1207.1 1065.1,1207.9 1068.2,1208.3 1071.4,1209.3 1074.5,1209.2 1077.7,1209.9 1080.8,1210.4 1084,1211.3 1087.1,1211 1090.3,1211.8 1093.4,1212.2 1096.5,1212.4 1099.6,1212.9 1102.7,1213.5 1105.9,1213.2 1109,1213.8 1112.1,1214 1115.2,1214.3 1118.3,1214.2 1121.4,1215.2 1124.5,1215.6 1127.6,1215.4 1130.7,1215.7 1133.8,1216.6 1137,1216.1 1140.1,1216.4 1143.2,1216.7 1146.3,1217.7 1149.4,1217.7 1152.4,1217.9 1155.5,1217.5 1158.5,1217.6 1161.6,1217 1164.6,1217.5 1167.7,1217.3 1170.7,1217.3 1173.7,1217.1 1176.8,1217 1179.8,1216.8 1182.9,1216.6 1185.9,1216.9 1189,1216.6 1192,1216.8 1195,1217.7 1198,1218.5 1201,1219.1 1204,1219.6 1207,1220.3" fill="none" stroke="#000" stroke-width="7.2" stroke-linejoin="round" stroke-linecap="butt"/>
<polyline points="1242.5,1198.7 1245.5,1198.9 1248.6,1197.9 1251.6,1198 1257.1,1189 1259.2,1179.2 1261.3,1175 1265,1171.3 1268.8,1169 1272.5,1165.3 1274.5,1157 1277,1131.1 1281,1073.6 1282.3,1021.3 1283.6,956 1284.9,903.7 1286.2,864.5 1288.8,812.3 1291.4,794 1295.3,812.3 1299.2,869.8 1304.5,906.3 1307.8,899.5 1311,893.3 1316.2,876.3 1320.2,898.5 1322.8,937.7 1326.7,984.7 1331.9,1013.5 1337.1,1021.3 1341,1019.7 1345,1018.8 1348.9,1017.4 1354.1,1031.8 1360.7,1068.4 1365.9,1099.7 1369.2,1100.9 1372.4,1102.3 1375.7,1111.2 1379,1119.3 1384.2,1099.7 1392,1068.4 1399.9,1034.4 1407.7,990 1412.9,948.2 1419.5,922 1426,882.8 1429.9,883.9 1433.8,885.4 1439.1,916.8 1443,890 1446.9,906.3 1449.3,885.6 1452.8,862.4 1456.3,813.6 1460.9,785.8 1465.5,767.2 1470.2,730 1473.7,711.5 1477.8,713.1 1481.8,713.8 1486.4,739.3 1491.1,785.8 1495.7,827.6 1500.4,850.8 1503.8,859.9 1507.3,869.3 1510.4,870.2 1513.5,871.3 1516.6,871.7 1521.3,883.3 1525.9,906.5 1532.9,934.4 1536.3,939.2 1539.8,943.6 1543.3,945.2 1546.8,946 1550.3,956.6 1553.8,966.9 1557.3,971.1 1560.7,976.5 1564.2,980.8 1567.7,979.3 1571.2,977.6 1574.7,976.2 1581.6,952.9 1588.6,920.4 1595.6,887.9 1602.5,867 1609.5,843.8 1615.3,832.2 1619.3,827.3 1623.4,822.9 1628.1,804.3 1632.7,781.1 1635.8,777.5 1638.9,773.4 1642,769.5 1645.5,765.2 1649,760.2 1653.6,734.7 1659.4,699.8 1664.1,690.6 1669.9,702.2 1676.8,727.7 1680.3,723.3 1683.8,718.4 1690.8,695.2 1696.6,669.7 1702.4,672 1705.9,678.2 1709.4,683.6 1712.8,680.2 1716.3,676.6 1722.1,662.7 1727.9,674.3 1732.6,702.2 1735.9,716.6 1740.2,709.5 1744.4,702 1749.3,684.9 1754.1,645.9 1759,623.9 1762.7,641 1766.3,684.9 1771.2,716.6 1778.5,755.6 1785.9,799.5 1798,848.3 1807.8,889.8 1815.1,921.5 1822.4,945.9 1825.8,949.7 1829.2,953 1832.5,957.3 1835.9,960.5 1839.5,933.7 1843.2,884.9 1848,848.3 1852.9,821.5 1856.6,848.3 1859,897.1 1860.2,933.7 1862.7,955.6 1866.4,955.4 1870,955.9 1873.7,955.6 1878,959.7 1882.2,962.9 1886.5,958.2 1890.7,953.2 1894,948 1897.2,943.7 1900.5,938.5 1904.2,930.2 1907.8,921.5 1912.7,884.9 1917.6,848.3 1921.2,811.7 1923.7,775.1 1926.1,741 1929.2,738.9 1932.2,737.3 1937.1,731.2 1942,697.1 1948,672.7 1954.1,628.8 1957.8,594.6 1958.5,573.7 1961.8,528.1 1963.4,466.4 1965,417.6 1966.6,398.1 1969.9,417.6 1974.8,446.9 1979.6,424.1 1984.5,385.1 1987.8,352.6 1989.4,329.8 1993.5,322.9 1997.5,316.8 2004,297.3 2008.9,271.3 2013.8,245.3 2017,225.8 2020.2,227.4 2023.5,229 2028.4,211.2 2032.2,211.3 2036,212.6 2039.8,212.8 2043.6,210.6 2047.4,208.5 2051.2,206.3 2055.2,196.5 2059.3,186.8 2065.8,167.3 2070.7,151 2073.9,125 2077.2,92.5 2082,69.8" fill="none" stroke="#000" stroke-width="7.2" stroke-linejoin="round" stroke-linecap="butt"/>
<line x1="2082.4" y1="70" x2="2082.4" y2="1228.5" stroke="#000" stroke-width="7.8"/>
<g font-family="'Liberation Sans', Arial, sans-serif" font-size="60.2" text-anchor="middle" fill="#000" letter-spacing="2.7">
<text x="218" y="1538.8">4000</text>
<text x="547" y="1538.8">3500</text>
<text x="877.5" y="1538.8">3000</text>
<text x="1438.5" y="1538.8">1500</text>
<text x="1768.5" y="1538.8">1000</text>
<text x="2096.3" y="1538.8">500</text>
</g>
<text transform="translate(1178.6,1692) scale(1.0714,1)" x="0" y="0" font-family="'Liberation Serif', 'Times New Roman', Times, serif" font-size="90" text-anchor="middle" fill="#000">Wavenumber (cm<tspan dy="-37" font-size="59">-1</tspan><tspan dy="37">)</tspan></text>
<text transform="translate(99.6,1056) rotate(-90) scale(0.955,1)" x="0" y="0" font-family="'Liberation Serif', 'Times New Roman', Times, serif" font-size="96.5" fill="#000">Absorbance (a.u.)</text>
<line x1="270.7" y1="176" x2="412.7" y2="176" stroke="#000" stroke-width="5"/>
<line x1="270.7" y1="259" x2="412.7" y2="259" stroke="#ff4646" stroke-width="5"/>
<line x1="270.7" y1="341.9" x2="412.7" y2="341.9" stroke="#007fe6" stroke-width="5"/>
<line x1="270.7" y1="426" x2="412.7" y2="426" stroke="#535353" stroke-width="5"/>
<g font-family="'Liberation Serif', 'Times New Roman', Times, serif" font-weight="bold" font-size="61">
<text transform="translate(409.4,194.2) scale(1.018,1)" fill="#000">As received (Y-0)</text>
<text transform="translate(409.4,277.1) scale(1.0144,1)" fill="#ff4646">14.5J/cm<tspan dy="-19.5" font-size="42">2</tspan><tspan dy="19.5">, 87.6% (Y-1)</tspan></text>
<text transform="translate(409.4,359.1) scale(1.0147,1)" fill="#007fe6">12 J/cm<tspan dy="-19.5" font-size="42">2</tspan><tspan dy="19.5">, 87.4% (N-1)</tspan></text>
<text transform="translate(409.4,443.2) scale(1.017,1)" fill="#535353">7 J/cm<tspan dy="-19.5" font-size="42">2</tspan><tspan dy="19.5">, 96.5 % (Y-2)</tspan></text>
</g>
<g font-family="'Liberation Serif', 'Times New Roman', Times, serif" font-weight="bold" font-size="52" fill="#000">
<text transform="translate(945.2,968.7) rotate(-90) scale(1.03,1)">2964</text>
<text transform="translate(999.5,1056.9) rotate(-90) scale(1.03,1)">2875</text>
<text transform="translate(1299.5,768.6) rotate(-90) scale(1.03,1)">1726</text>
<text transform="translate(1344.2,849.4) rotate(-90) scale(1.03,1)">1677</text>
<text transform="translate(1431.9,870.9) rotate(-90) scale(1.03,1)">1485</text>
<text transform="translate(1487.7,697) rotate(-90) scale(1.03,1)">1450</text>
<text transform="translate(1724,650.3) rotate(-90) scale(1.03,1)">1111</text>
<text transform="translate(1770,599.5) rotate(-90) scale(1.03,1)">1017</text>
<text transform="translate(1869.3,802.9) rotate(-90) scale(1.03,1)">870</text>
<text transform="translate(1967.7,387.4) rotate(-90) scale(1.03,1)">698</text>
</g></svg>
</body></html>
